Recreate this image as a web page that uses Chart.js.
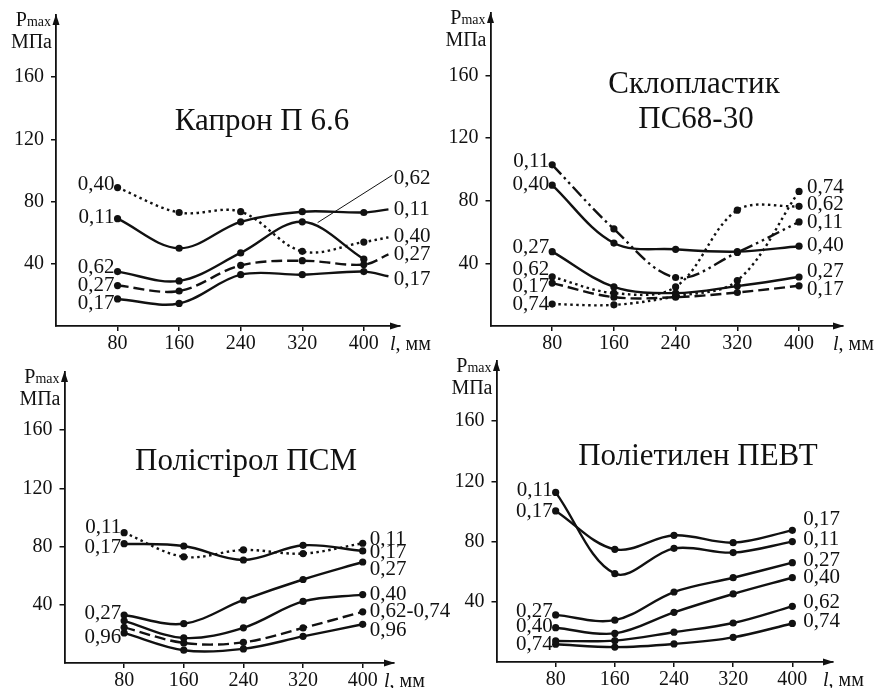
<!DOCTYPE html>
<html>
<head>
<meta charset="utf-8">
<script src="https://cdn.jsdelivr.net/npm/chart.js@4.4.1/dist/chart.umd.min.js"></script>
<style>
  body { margin: 0; background: #fff; }
  #wrap { position: relative; width: 880px; height: 688px; }
  canvas { position: absolute; left: 0; top: 0; }
</style>
</head>
<body>
<div id="wrap">
  <canvas id="c1" width="880" height="688"></canvas>
  <canvas id="c2" width="880" height="688"></canvas>
  <canvas id="c3" width="880" height="688"></canvas>
  <canvas id="c4" width="880" height="688"></canvas>
</div>
<script>
const xTicks = [80, 160, 240, 320, 400];
const yTicks = [40, 80, 120, 160];

// Капрон П 6.6 (last x is the tail past 400 mm, no marker)
const kapronX = [80, 160, 240, 320, 400, 432];
const kapron011 = [69, 50, 67, 73.5, 73, 75];
const kapron040 = [89, 73, 73.5, 48, 54, 57];
const kapron062 = [35, 29, 47, 67, 43];
const kapron027 = [26, 22.5, 39, 42, 39.5, 46];
const kapron017 = [17.4, 14.5, 33, 33, 35, 32];

// Склопластик ПС68-30
const sklo011 = [103, 62, 31, 47, 66.5];
const sklo040 = [90, 53, 49, 47.5, 51];
const sklo027 = [47.5, 25, 21, 25.5, 31.3];
const sklo062 = [31.4, 21, 25, 74, 76.5];
const sklo017 = [27.4, 18.4, 18.4, 21.4, 25.7];
const sklo074 = [14, 13.5, 19, 29, 86];

// Полістірол ПСМ
const psm011 = [89.6, 73, 77.7, 75.2, 82.3];
const psm017 = [82, 80.4, 70.8, 80.9, 77];
const psm027 = [33, 27, 43.3, 57.4, 69.4];
const psm040 = [29, 17.2, 24.2, 42.3, 47];
const psm062 = [24.5, 13.8, 14.2, 24.1, 35.2];
const psm096 = [20.7, 8.8, 9.7, 18.3, 26.6];

// Поліетилен ПЕВТ
const pevt011 = [112.7, 58.7, 75.5, 72.7, 80];
const pevt017 = [100.4, 74.9, 84.2, 79.3, 87.5];
const pevt027 = [31.3, 27.8, 46.5, 56, 66];
const pevt040 = [22.8, 19, 33, 45.2, 56];
const pevt062 = [14, 14.2, 19.8, 25.9, 37];
const pevt074 = [11.8, 9.9, 12, 16.4, 25.6];

const ink = '#111';
const serif = '"Liberation Serif", "Times New Roman", serif';
const dashes = {
    solid: [],
    dot: [2.5, 3.5],
    dash: [11, 5],
    dashdotdot: [13, 4, 2.5, 4, 2.5, 4]
};

const panels = [
    {
        id: 'c1', box: [56, 15, 400, 326], xMax: 447, xs: kapronX,
        title: [['Капрон П 6.6', 262, 130]],
        series: [
            { data: kapron011, style: 'solid' },
            { data: kapron040, style: 'dot' },
            { data: kapron062, style: 'solid' },
            { data: kapron027, style: 'dash' },
            { data: kapron017, style: 'solid' }
        ],
        left: [['0,40', 91], ['0,11', 69.5], ['0,62', 37.8], ['0,27', 25.8], ['0,17', 14.5]],
        right: [['0,62', 95], ['0,11', 75], ['0,40', 57.6], ['0,27', 46], ['0,17', 30]],
        rightGap: 30,
        leader: [[340, 66.5], [437, 97]]
    },
    {
        id: 'c2', box: [490.5, 13, 843, 326], xMax: 457, xs: xTicks,
        title: [['Склопластик', 694, 93], ['ПС68-30', 696, 128]],
        series: [
            { data: sklo011, style: 'dashdotdot' },
            { data: sklo040, style: 'solid' },
            { data: sklo027, style: 'solid' },
            { data: sklo062, style: 'dot' },
            { data: sklo017, style: 'dash' },
            { data: sklo074, style: 'dot' }
        ],
        left: [['0,11', 105.3], ['0,40', 90.7], ['0,27', 50], ['0,62', 36], ['0,17', 25.3], ['0,74', 13.5]],
        right: [['0,74', 88.5], ['0,62', 77.4], ['0,11', 66.4], ['0,40', 51.6], ['0,27', 34.9], ['0,17', 23.6]],
        rightGap: 8
    },
    {
        id: 'c3', box: [64.5, 372, 394, 663], xMax: 442, xs: xTicks,
        title: [['Полістірол ПСМ', 246, 470]],
        series: [
            { data: psm011, style: 'dot' },
            { data: psm017, style: 'solid' },
            { data: psm027, style: 'solid' },
            { data: psm040, style: 'solid' },
            { data: psm062, style: 'dash' },
            { data: psm096, style: 'solid' }
        ],
        left: [['0,11', 93], ['0,17', 79.3], ['0,27', 34], ['0,96', 17.2]],
        right: [['0,11', 85], ['0,17', 75.9], ['0,27', 64.3], ['0,40', 47.1], ['0,62-0,74', 35.2], ['0,96', 22.5]],
        rightGap: 7
    },
    {
        id: 'c4', box: [496.5, 361, 833, 662], xMax: 455, xs: xTicks,
        title: [['Поліетилен ПЕВТ', 698, 465]],
        series: [
            { data: pevt011, style: 'solid' },
            { data: pevt017, style: 'solid' },
            { data: pevt027, style: 'solid' },
            { data: pevt040, style: 'solid' },
            { data: pevt062, style: 'solid' },
            { data: pevt074, style: 'solid' }
        ],
        left: [['0,11', 113.7], ['0,17', 100], ['0,27', 33.7], ['0,40', 23.3], ['0,74', 11.5]],
        right: [['0,17', 94.9], ['0,11', 81.5], ['0,27', 67.7], ['0,40', 56], ['0,62', 39.3], ['0,74', 27.1]],
        rightGap: 11
    }
];

// arrows, axis names, titles and curve labels
const annotate = {
    id: 'annotate',
    afterDatasetsDraw(chart, args, p) {
        const ctx = chart.ctx;
        const a = chart.chartArea;
        const x = chart.scales.x;
        const y = chart.scales.y;
        ctx.save();
        ctx.fillStyle = ink;
        ctx.strokeStyle = ink;

        ctx.beginPath();
        ctx.moveTo(a.left, a.top - 1);
        ctx.lineTo(a.left - 3.5, a.top + 10);
        ctx.lineTo(a.left + 3.5, a.top + 10);
        ctx.fill();
        ctx.beginPath();
        ctx.moveTo(a.right + 1, a.bottom);
        ctx.lineTo(a.right - 10, a.bottom - 3.5);
        ctx.lineTo(a.right - 10, a.bottom + 3.5);
        ctx.fill();

        ctx.textBaseline = 'alphabetic';
        ctx.textAlign = 'left';
        ctx.font = '20px ' + serif;
        const wP = ctx.measureText('P').width;
        ctx.font = '14px ' + serif;
        const wMax = ctx.measureText('max').width;
        const px = a.left - 5 - wP - wMax;
        ctx.font = '20px ' + serif;
        ctx.fillText('P', px, a.top + 11);
        ctx.font = '14px ' + serif;
        ctx.fillText('max', px + wP, a.top + 11);
        ctx.font = '20px ' + serif;
        ctx.textAlign = 'right';
        ctx.fillText('МПа', a.left - 4, a.top + 33);

        ctx.textAlign = 'left';
        ctx.font = 'italic 20px ' + serif;
        const lx = a.right - 10;
        ctx.fillText('l', lx, a.bottom + 24);
        const wl = ctx.measureText('l').width;
        ctx.font = '20px ' + serif;
        ctx.fillText(', мм', lx + wl, a.bottom + 24);

        ctx.font = '31px ' + serif;
        ctx.textAlign = 'center';
        p.title.forEach(t => ctx.fillText(t[0], t[1], t[2]));

        ctx.font = '21px ' + serif;
        ctx.textBaseline = 'middle';
        ctx.textAlign = 'right';
        p.left.forEach(l => ctx.fillText(l[0], x.getPixelForValue(80) - 3, y.getPixelForValue(l[1])));
        ctx.textAlign = 'left';
        p.right.forEach(l => ctx.fillText(l[0], x.getPixelForValue(400) + p.rightGap, y.getPixelForValue(l[1])));

        if (p.leader) {
            ctx.lineWidth = 1;
            ctx.beginPath();
            ctx.moveTo(x.getPixelForValue(p.leader[0][0]), y.getPixelForValue(p.leader[0][1]));
            ctx.lineTo(x.getPixelForValue(p.leader[1][0]), y.getPixelForValue(p.leader[1][1]));
            ctx.stroke();
        }
        ctx.restore();
    }
};

function fixScale(s, size) {
    if (s.axis === 'x') s.height = size; else s.width = size;
    s.paddingTop = 0;
    s.paddingBottom = 0;
    s.paddingLeft = 0;
    s.paddingRight = 0;
}

function makeChart(p) {
    const b = p.box;
    const datasets = p.series.map(s => ({
        data: s.data.map((v, i) => ({ x: p.xs[i], y: v })),
        borderColor: ink,
        backgroundColor: ink,
        borderWidth: 2.4,
        borderDash: dashes[s.style],
        tension: 0.35,
        fill: false,
        pointRadius: s.data.map((v, i) => p.xs[i] > 400 ? 0 : 3.6),
        pointBackgroundColor: ink,
        pointBorderWidth: 0
    }));
    new Chart(document.getElementById(p.id), {
        type: 'line',
        data: { datasets: datasets },
        options: {
            responsive: false,
            animation: false,
            events: [],
            layout: { padding: { left: 0, top: b[1], right: 880 - b[2], bottom: 0 } },
            plugins: { legend: { display: false }, tooltip: { enabled: false }, annotate: p },
            scales: {
                x: {
                    type: 'linear', min: 0, max: p.xMax,
                    afterBuildTicks: s => { s.ticks = xTicks.map(v => ({ value: v })); },
                    afterFit: s => fixScale(s, 688 - b[3]),
                    grid: { drawOnChartArea: false, drawTicks: true, tickLength: 5, color: ink, lineWidth: 1.5 },
                    border: { display: true, color: ink, width: 1.8 },
                    ticks: { color: ink, font: { family: serif, size: 20 }, padding: 1, maxRotation: 0 }
                },
                y: {
                    min: 0, max: 200,
                    afterBuildTicks: s => { s.ticks = yTicks.map(v => ({ value: v })); },
                    afterFit: s => fixScale(s, b[0]),
                    grid: { drawOnChartArea: false, drawTicks: true, tickLength: 5, color: ink, lineWidth: 1.5 },
                    border: { display: true, color: ink, width: 1.8 },
                    ticks: { color: ink, font: { family: serif, size: 20 }, padding: 7 }
                }
            }
        },
        plugins: [annotate]
    });
}

panels.forEach(makeChart);
</script>
</body>
</html>
